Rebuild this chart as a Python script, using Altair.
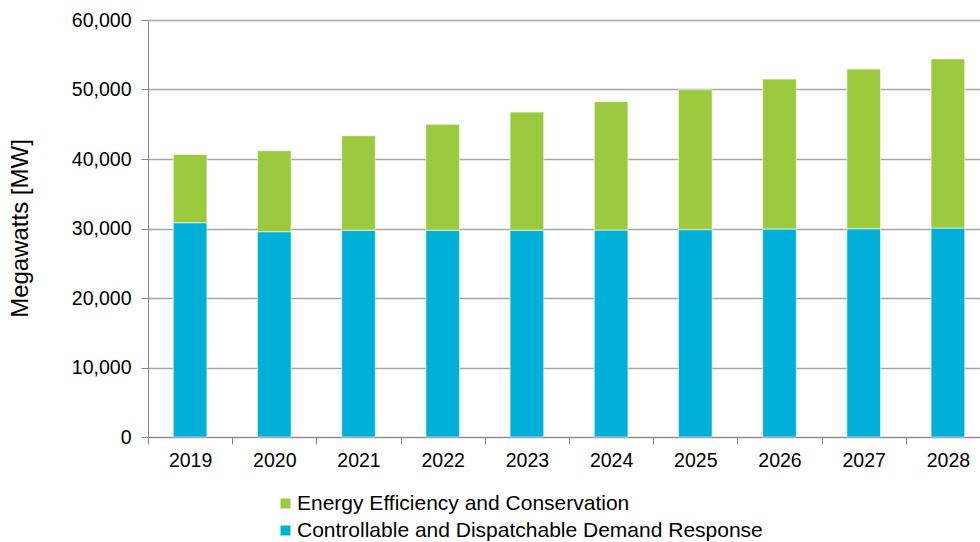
import altair as alt
import pandas as pd

years = ["2019", "2020", "2021", "2022", "2023", "2024", "2025", "2026", "2027", "2028"]
totals = [40650, 41200, 43350, 45000, 46750, 48250, 49970, 51500, 52950, 54400]
demand_response = [30830, 29540, 29740, 29740, 29740, 29780, 29830, 29930, 29970, 30070]
series = ["Energy Efficiency and Conservation", "Controllable and Dispatchable Demand Response"]
colors = ["#9BCA3E", "#00B0D8"]

rows = []
for y, t, d in zip(years, totals, demand_response):
    rows.append({"year": y, "series": series[1], "value": d, "ord": 0})
    rows.append({"year": y, "series": series[0], "value": t - d, "ord": 1})
df = pd.DataFrame(rows)

font = "Liberation Sans"

chart = alt.Chart(df).mark_bar(
    width={"band": 0.4}, stroke="#FFFFFF", strokeWidth=1, strokeOpacity=0.6
).encode(
    x=alt.X("year:N", sort=years,
            scale=alt.Scale(paddingInner=0, paddingOuter=0, range=[0, 842]),
            axis=alt.Axis(title=None, labelAngle=0, tickBand="extent", labelFontSize=19.5,
                          labelFont=font, labelColor="#000000", labelPadding=7,
                          domainColor="#868686", tickColor="#868686", tickSize=7,
                          grid=False)),
    y=alt.Y("value:Q", stack="zero",
            scale=alt.Scale(domain=[0, 60000], nice=False),
            axis=alt.Axis(title="Megawatts [MW]", values=[0, 10000, 20000, 30000, 40000, 50000, 60000],
                          format=",.0f", labelFontSize=19.5, labelFont=font, labelColor="#000000",
                          labelPadding=10, tickSize=7, tickColor="#868686", domainColor="#868686",
                          gridColor="#A6A6A6", gridWidth=1.3,
                          titleFontSize=24, titleFont=font, titleFontWeight="normal",
                          titleColor="#000000", titleX=-128, titleY=208, titleAngle=-90,
                          titleAlign="center", titleBaseline="middle")),
    color=alt.Color("series:N",
                    scale=alt.Scale(domain=series, range=colors),
                    legend=alt.Legend(title=None, orient="none", legendX=127, legendY=473,
                                      symbolType="square", symbolSize=100, symbolStrokeWidth=0,
                                      labelFontSize=21, labelFont=font, labelColor="#000000",
                                      labelLimit=0, rowPadding=5, labelOffset=1)),
    order=alt.Order("ord:Q", sort="ascending"),
).properties(
    width=832, height=417,
    autosize=alt.AutoSizeParams(type="none"),
    padding={"left": 148, "top": 20, "right": 0, "bottom": 105},
).configure_view(stroke=None).configure(background="#FFFFFF")

chart.save("out.html", embed_options={"renderer": "svg", "actions": False})
